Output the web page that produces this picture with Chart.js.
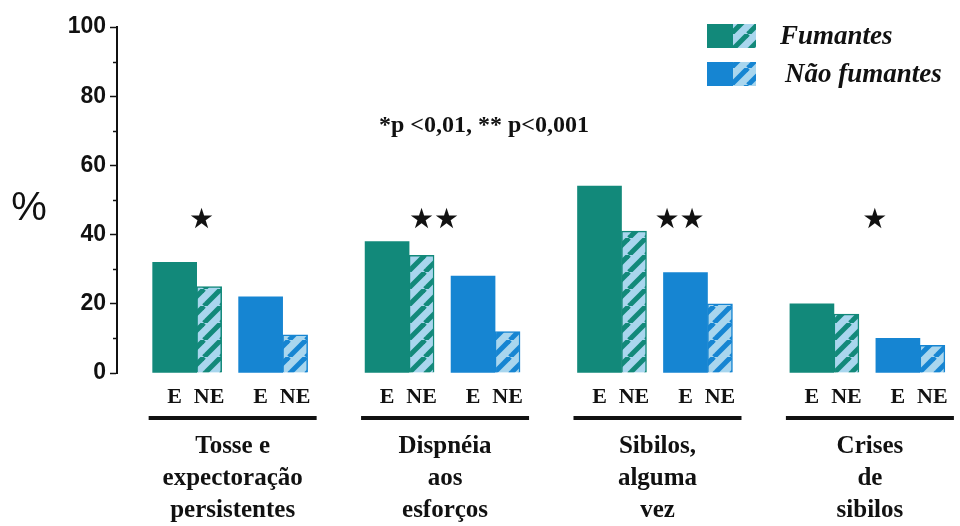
<!DOCTYPE html>
<html>
<head>
<meta charset="utf-8">
<script src="https://cdn.jsdelivr.net/npm/chart.js@4.4.1/dist/chart.umd.min.js"></script>
<style>
  html, body { margin: 0; padding: 0; background: #ffffff; }
  #wrap { width: 960px; height: 526px; position: relative; }
</style>
</head>
<body>
<div id="wrap"><canvas id="c"></canvas></div>
<script>
// Symptom groups (multi-line labels under each block of bars)
const groups = [
  ['Tosse e', 'expectoração', 'persistentes'],
  ['Dispnéia', 'aos', 'esforços'],
  ['Sibilos,', 'alguma', 'vez'],
  ['Crises', 'de', 'sibilos']
];
// Prevalence (%) by smoking status, exposed (E) / not exposed (NE)
const fumantesE     = [32, 38, 54, 20];
const fumantesNE    = [25, 34, 41, 17];
const naoFumantesE  = [22, 28, 29, 10];
const naoFumantesNE = [11, 12, 20, 8];
const barLabels     = ['E', 'NE', 'E', 'NE'];
const significance  = ['★', '★★', '★★', '★'];
const yTicks        = [0, 20, 40, 60, 80, 100];
const legendNames   = ['Fumantes', 'Não fumantes'];
const pValueNote    = '*p <0,01, ** p<0,001';

// Colours
const GREEN = '#12897a';
const BLUE  = '#1685d2';
const LIGHT = '#a9d6ee';

// Diagonal hatch fill: light background with "/" stripes in the series colour
function hatch(stripe, bg) {
  const s = 17;
  const c = document.createElement('canvas');
  c.width = c.height = s;
  const g = c.getContext('2d');
  g.fillStyle = bg;
  g.fillRect(0, 0, s, s);
  g.strokeStyle = stripe;
  g.lineWidth = 5;
  for (const d of [-s, 0, s]) {
    g.beginPath();
    g.moveTo(d, s);
    g.lineTo(d + s, 0);
    g.stroke();
  }
  return g.createPattern(c, 'repeat');
}
const hatchGreen = hatch(GREEN, LIGHT);
const hatchBlue  = hatch(BLUE, LIGHT);

// Layout of the four bars inside a block, in pixels relative to the block centre
const GROUP_PX = 212.5;                 // pixel width of one x unit
const barOffsetPx = [-56, -21.5, 30, 64.5];
const barWidthPx  = [44, 25, 44, 25];
const starDxPx    = [-29, -9, 24, 7];

const seriesValues = [fumantesE, fumantesNE, naoFumantesE, naoFumantesNE];
const seriesFill   = [GREEN, hatchGreen, BLUE, hatchBlue];
const seriesBorder = [GREEN, GREEN, BLUE, BLUE];
const seriesBW     = [0, 1.5, 0, 1.5];

const datasets = seriesValues.map((vals, k) => ({
  label: (k < 2 ? legendNames[0] : legendNames[1]) + ' ' + barLabels[k],
  data: vals.map((v, i) => ({ x: i + barOffsetPx[k] / GROUP_PX, y: v })),
  backgroundColor: seriesFill[k],
  borderColor: seriesBorder[k],
  borderWidth: seriesBW[k],
  borderSkipped: 'bottom',
  barThickness: barWidthPx[k],
  grouped: false
}));

// Extra drawing: minor ticks, annotations, category labels and legend
const decorations = {
  id: 'decorations',
  afterDraw(chart) {
    const ctx = chart.ctx;
    const xs = chart.scales.x, ys = chart.scales.y;
    const area = chart.chartArea;
    ctx.save();

    // minor ticks on the value axis
    ctx.strokeStyle = '#111';
    ctx.lineWidth = 1.5;
    for (let v = 10; v < 100; v += 20) {
      const y = Math.round(ys.getPixelForValue(v)) + 0.5;
      ctx.beginPath();
      ctx.moveTo(area.left - 4, y);
      ctx.lineTo(area.left, y);
      ctx.stroke();
    }

    ctx.fillStyle = '#111';
    ctx.textAlign = 'center';
    ctx.textBaseline = 'middle';

    // axis unit
    ctx.font = '40px "Liberation Sans", Arial, sans-serif';
    ctx.fillText('%', 29, 209);

    // significance note
    ctx.font = 'bold 24px "Liberation Serif", "Times New Roman", serif';
    ctx.fillText(pValueNote, 484, 126);

    groups.forEach((lines, i) => {
      const cx = xs.getPixelForValue(i);

      // significance stars
      ctx.font = '28px "DejaVu Sans", sans-serif';
      ctx.fillText(significance[i], cx + starDxPx[i], ys.getPixelForValue(44));

      // E / NE labels under each bar
      ctx.font = 'bold 22px "Liberation Serif", "Times New Roman", serif';
      for (let k = 0; k < 4; k++) {
        const bx = xs.getPixelForValue(i + barOffsetPx[k] / GROUP_PX);
        ctx.fillText(barLabels[k], bx, 397);
      }

      // heavy underline
      const ux = cx + 2;
      ctx.fillRect(ux - 84, 416, 168, 4);

      // symptom name
      ctx.font = 'bold 25px "Liberation Serif", "Times New Roman", serif';
      lines.forEach((t, j) => ctx.fillText(t, ux, 447 + j * 32));
    });

    // legend
    const legendRows = [
      { solid: GREEN, pat: hatchGreen, y: 24, tx: 780 },
      { solid: BLUE,  pat: hatchBlue,  y: 62, tx: 785 }
    ];
    legendRows.forEach((r, j) => {
      ctx.fillStyle = r.solid;
      ctx.fillRect(707, r.y, 26, 24);
      ctx.fillStyle = r.pat;
      ctx.fillRect(733, r.y, 23, 24);
      ctx.fillStyle = '#111';
      ctx.textAlign = 'left';
      ctx.font = 'italic bold 27px "Liberation Serif", "Times New Roman", serif';
      ctx.fillText(legendNames[j], r.tx, r.y + 13);
    });

    ctx.restore();
  }
};

new Chart(document.getElementById('c'), {
  type: 'bar',
  data: { datasets },
  plugins: [decorations],
  options: {
    responsive: true,
    maintainAspectRatio: false,
    animation: false,
    layout: { padding: { left: 0, right: 5, top: 27, bottom: 153 } },
    plugins: { legend: { display: false }, tooltip: { enabled: false } },
    scales: {
      x: {
        type: 'linear',
        min: -0.535,
        max: 3.41,
        offset: false,
        grid: { offset: false },
        display: false
      },
      y: {
        min: 0,
        max: 100,
        afterFit(scale) { scale.width = 117; },
        afterBuildTicks(scale) { scale.ticks = yTicks.map(v => ({ value: v })); },
        border: { display: true, color: '#111', width: 2 },
        grid: {
          drawOnChartArea: false,
          drawTicks: true,
          tickLength: 7,
          tickColor: '#111',
          tickWidth: 1.5
        },
        ticks: {
          padding: 4,
          color: '#111',
          font: { family: '"Liberation Sans", Arial, sans-serif', size: 23, weight: 'bold' }
        }
      }
    }
  }
});
</script>
</body>
</html>
